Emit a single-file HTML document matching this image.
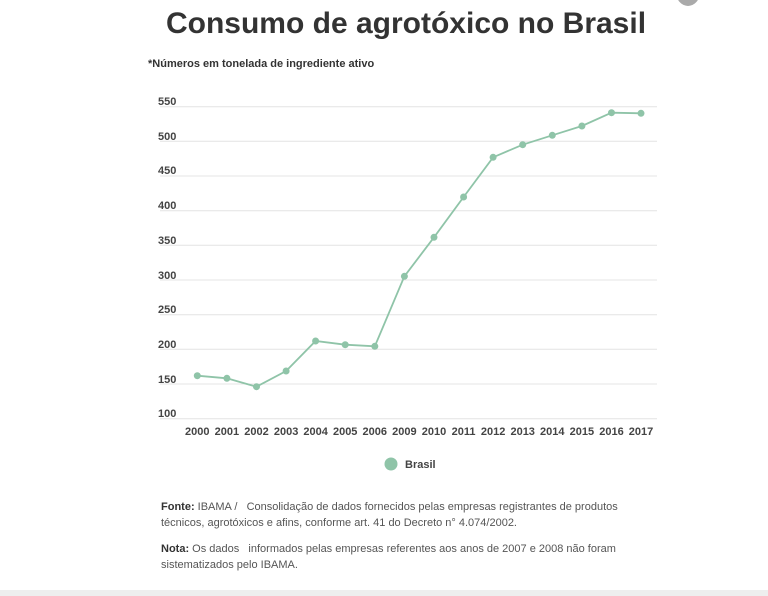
<!DOCTYPE html>
<html><head><style>
body{margin:0;width:768px;height:596px;background:#fff;font-family:"Liberation Sans",sans-serif;position:relative;overflow:hidden}
.t{position:absolute;left:0;width:812px;text-align:center;top:7px;font-size:30px;font-weight:bold;color:#333}
.s{position:absolute;left:148px;top:58px;font-size:11px;font-weight:bold;color:#333}
.f{position:absolute;left:161px;font-size:11px;color:#555;line-height:16px}
.f b{color:#333}
</style></head><body>
<div class="t">Consumo de agrotóxico no Brasil</div>
<div class="s">*Números em tonelada de ingrediente ativo</div>
<div style="position:absolute;left:676px;top:-22px;width:24px;height:28px;border-radius:50%;background:#aaa"></div>
<svg width="768" height="596" style="position:absolute;left:0;top:0">
<g stroke="#e4e4e4" stroke-width="1">
<line x1="160" x2="657" y1="106.7" y2="106.7"/><line x1="160" x2="657" y1="141.3" y2="141.3"/><line x1="160" x2="657" y1="176" y2="176"/><line x1="160" x2="657" y1="210.7" y2="210.7"/><line x1="160" x2="657" y1="245.3" y2="245.3"/><line x1="160" x2="657" y1="280" y2="280"/><line x1="160" x2="657" y1="314.7" y2="314.7"/><line x1="160" x2="657" y1="349.3" y2="349.3"/><line x1="160" x2="657" y1="384" y2="384"/><line x1="160" x2="657" y1="418.7" y2="418.7"/>
</g>
<g font-size="11" font-weight="bold" fill="#444" font-family="Liberation Sans">
<text x="158" y="105">550</text><text x="158" y="140">500</text><text x="158" y="174">450</text><text x="158" y="209">400</text><text x="158" y="244">350</text><text x="158" y="279">300</text><text x="158" y="313">250</text><text x="158" y="348">200</text><text x="158" y="383">150</text><text x="158" y="417">100</text>
</g>
<g font-size="11" font-weight="bold" fill="#444" text-anchor="middle" font-family="Liberation Sans">
<text x="197.3" y="435">2000</text><text x="226.9" y="435">2001</text><text x="256.5" y="435">2002</text><text x="286.1" y="435">2003</text><text x="315.6" y="435">2004</text><text x="345.2" y="435">2005</text><text x="374.8" y="435">2006</text><text x="404.4" y="435">2009</text><text x="434" y="435">2010</text><text x="463.6" y="435">2011</text><text x="493.1" y="435">2012</text><text x="522.7" y="435">2013</text><text x="552.3" y="435">2014</text><text x="581.9" y="435">2015</text><text x="611.5" y="435">2016</text><text x="641" y="435">2017</text>
</g>
<polyline fill="none" stroke="#8fc4a8" stroke-width="1.8" points="197.3,375.7 226.9,378.3 256.5,386.7 286.1,371 315.6,341 345.2,344.7 374.8,346.3 404.4,276.3 434,237.3 463.6,197 493.1,157.3 522.7,144.7 552.3,135.3 581.9,126 611.5,112.7 641,113.3"/>
<g fill="#8fc4a8">
<circle cx="197.3" cy="375.7" r="3.5"/><circle cx="226.9" cy="378.3" r="3.5"/><circle cx="256.5" cy="386.7" r="3.5"/><circle cx="286.1" cy="371" r="3.5"/><circle cx="315.6" cy="341" r="3.5"/><circle cx="345.2" cy="344.7" r="3.5"/><circle cx="374.8" cy="346.3" r="3.5"/><circle cx="404.4" cy="276.3" r="3.5"/><circle cx="434" cy="237.3" r="3.5"/><circle cx="463.6" cy="197" r="3.5"/><circle cx="493.1" cy="157.3" r="3.5"/><circle cx="522.7" cy="144.7" r="3.5"/><circle cx="552.3" cy="135.3" r="3.5"/><circle cx="581.9" cy="126" r="3.5"/><circle cx="611.5" cy="112.7" r="3.5"/><circle cx="641" cy="113.3" r="3.5"/>
<circle cx="391" cy="464" r="6.5"/>
</g>
<text x="405" y="468" font-size="11" font-weight="bold" fill="#444" font-family="Liberation Sans">Brasil</text>
<rect x="0" y="590" width="768" height="6" fill="#eeeeee"/>
</svg>
<div class="f" style="top:499px"><b>Fonte:</b> IBAMA / &nbsp; Consolidação de dados fornecidos pelas empresas registrantes de produtos<br>técnicos, agrotóxicos e afins, conforme art. 41 do Decreto n° 4.074/2002.</div>
<div class="f" style="top:541px"><b>Nota:</b> Os dados &nbsp; informados pelas empresas referentes aos anos de 2007 e 2008 não foram<br>sistematizados pelo IBAMA.</div>
</body></html>
